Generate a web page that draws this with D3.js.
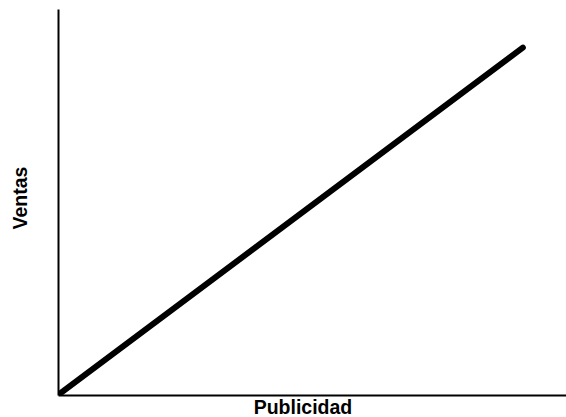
<!DOCTYPE html>
<html>
<head>
<meta charset="utf-8">
<script src="https://cdn.jsdelivr.net/npm/d3@7"></script>
<style>
  body { margin: 0; background: #fff; }
  .axis-title { font-family: "Liberation Sans", Arial, sans-serif; font-weight: bold; font-size: 19.5px; }
</style>
</head>
<body>
<svg id="chart"></svg>
<script>
// data
const publicidad = [0, 91.5];
const ventas = [0, 90];
const xTitle = 'Publicidad';
const yTitle = 'Ventas';

const width = 566, height = 417;
const margin = {top: 9, right: 0, bottom: 22, left: 58};
const innerW = width - margin.left - margin.right;
const innerH = height - margin.top - margin.bottom;

const svg = d3.select('#chart')
    .attr('width', width)
    .attr('height', height);

const chart = svg.append('g')
    .attr('transform', `translate(${margin.left},${margin.top})`);

const xScale = d3.scaleLinear().domain([0, 100]).range([0, innerW]);
const yScale = d3.scaleLinear().domain([0, 100]).range([innerH, 0]);

// clip so the line starts at the axes
chart.append('clipPath').attr('id', 'plot-clip')
  .append('rect')
    .attr('x', 0).attr('y', -10)
    .attr('width', innerW).attr('height', innerH + 10);

const points = publicidad.map((d, i) => ({x: d, y: ventas[i]}));

chart.append('path')
    .datum(points)
    .attr('clip-path', 'url(#plot-clip)')
    .attr('fill', 'none')
    .attr('stroke', '#000')
    .attr('stroke-width', 6)
    .attr('stroke-linecap', 'round')
    .attr('d', d3.line().x(d => xScale(d.x)).y(d => yScale(d.y)));

// axes without ticks
chart.append('g')
    .attr('transform', `translate(0,${innerH})`)
    .call(d3.axisBottom(xScale).ticks(0).tickSize(0).tickFormat(''))
    .call(g => g.select('.domain').attr('stroke-width', 2));

chart.append('g')
    .call(d3.axisLeft(yScale).ticks(0).tickSize(0).tickFormat(''))
    .call(g => g.select('.domain').attr('stroke-width', 2));

svg.append('text')
    .attr('class', 'axis-title')
    .attr('x', 303)
    .attr('y', 414)
    .attr('text-anchor', 'middle')
    .text(xTitle);

svg.append('text')
    .attr('class', 'axis-title')
    .attr('transform', 'translate(27,198) rotate(-90)')
    .attr('text-anchor', 'middle')
    .text(yTitle);
</script>
</body>
</html>
